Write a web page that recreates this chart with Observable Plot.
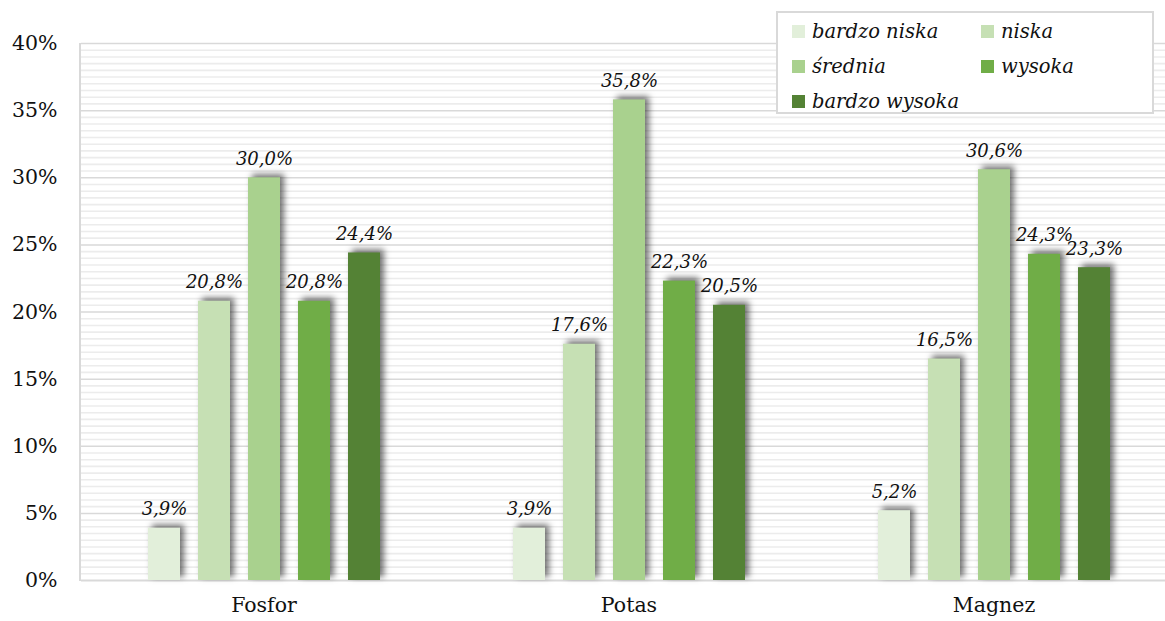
<!DOCTYPE html>
<html><head><meta charset="utf-8">
<script src="https://cdn.jsdelivr.net/npm/d3@7"></script>
<script src="https://cdn.jsdelivr.net/npm/@observablehq/plot@0.6"></script>
<style>
html,body{margin:0;padding:0;background:#fff;overflow:hidden;}
#wrap{position:relative;width:1165px;height:621px;overflow:hidden;font-family:"DejaVu Serif",serif;}
#wrap svg{max-width:none !important;position:absolute;left:0;top:0;}
#legend{position:absolute;left:776px;top:11px;width:378px;height:103px;border:2px solid #d9d9d9;background:#fff;
  display:grid;grid-template-columns:189px auto;grid-auto-rows:35px;padding:1px 0 0 14px;box-sizing:border-box;z-index:2;}
#legend .it{display:flex;align-items:center;font-style:italic;font-size:19.5px;color:#111;white-space:nowrap;}
#legend .sw{width:13px;height:13px;margin-right:7px;flex:none;}
svg g[aria-label="bar"] rect{filter:drop-shadow(4px -3px 3px rgba(0,0,0,0.55));}
</style></head>
<body><div id="wrap"><div id="legend"></div></div>
<script>
const groups = ["Fosfor", "Potas", "Magnez"];
const series = ["bardzo niska", "niska", "średnia", "wysoka", "bardzo wysoka"];
const fosfor = [3.9, 20.8, 30.0, 20.8, 24.4];
const potas = [3.9, 17.6, 35.8, 22.3, 20.5];
const magnez = [5.2, 16.5, 30.6, 24.3, 23.3];
const colors = ["#e2efda", "#c6e0b4", "#a9d18e", "#70ad47", "#548235"];
const yTicks = [0, 5, 10, 15, 20, 25, 30, 35, 40];

const valuesByGroup = {Fosfor: fosfor, Potas: potas, Magnez: magnez};
const data = groups.flatMap(g => series.map((s, i) => ({group: g, series: s, value: valuesByGroup[g][i]})));
const minor = d3.range(1, 80).map(i => i * 0.5).filter(v => v % 5 !== 0);
const fmt = v => v.toFixed(1).replace(".", ",") + "%";

const chart = Plot.plot({
  width: 1176, height: 621,
  marginLeft: 80, marginRight: 0, marginTop: 43, marginBottom: 41,
  style: {fontFamily: "DejaVu Serif, serif", fontSize: "20.5px", color: "#111", background: "transparent", maxWidth: "none"},
  fx: {domain: groups, padding: 0, label: null, axis: "bottom", tickSize: 0, tickPadding: 17},
  x: {domain: series, paddingInner: 0.36, paddingOuter: 1.33, axis: null},
  y: {domain: [0, 40], ticks: yTicks, tickFormat: d => d + "%", tickSize: 0, tickPadding: 24, label: null},
  color: {domain: series, range: colors},
  marks: [
    Plot.ruleY(minor, {stroke: "#ececec", strokeWidth: 1.6}),
    Plot.ruleY(yTicks.slice(1), {stroke: "#d9d9d9", strokeWidth: 1.5}),
    Plot.ruleY([0], {stroke: "#d9d9d9", strokeWidth: 2}),
    Plot.barY(data, {fx: "group", x: "series", y: "value", fill: "series"}),
    Plot.text(data, {fx: "group", x: "series", y: "value", text: d => fmt(d.value), lineAnchor: "bottom", dy: -13,
      fontStyle: "italic", fontSize: 18, fill: "#111"})
  ]
});
document.getElementById("wrap").prepend(chart);

// plot area left border
const fxs = chart.scale("fx"), ys = chart.scale("y");
const ln = document.createElementNS("http://www.w3.org/2000/svg", "line");
ln.setAttribute("x1", fxs.range[0]); ln.setAttribute("x2", fxs.range[0]);
ln.setAttribute("y1", ys.range[0] + 1); ln.setAttribute("y2", ys.range[1]);
ln.setAttribute("stroke", "#d9d9d9"); ln.setAttribute("stroke-width", 2);
chart.appendChild(ln);

const leg = document.getElementById("legend");
series.forEach((s, i) => {
  const it = document.createElement("div"); it.className = "it";
  const sw = document.createElement("span"); sw.className = "sw"; sw.style.background = colors[i];
  it.appendChild(sw); it.appendChild(document.createTextNode(s));
  leg.appendChild(it);
});
</script></body></html>
